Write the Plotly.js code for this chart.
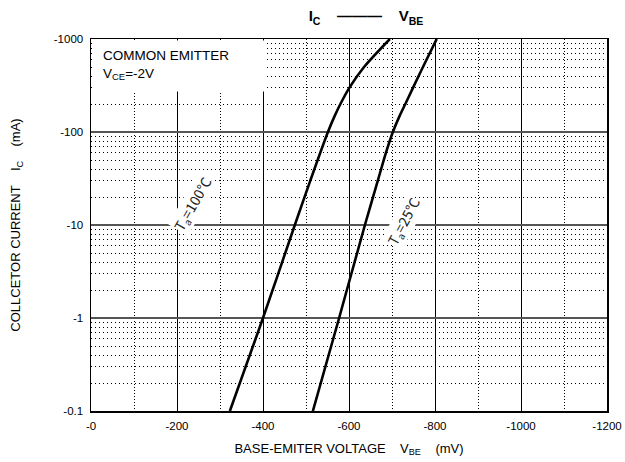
<!DOCTYPE html>
<html>
<head>
<meta charset="utf-8">
<script src="https://cdn.plot.ly/plotly-3.0.1.min.js"></script>
<style>html,body{margin:0;padding:0;background:#fff;}#chart{width:625px;height:462px;}</style>
</head>
<body>
<div id="chart"></div>
<script>
// Base-emitter voltage (mV) and collector current magnitude (mA, shown as negative)
const vbe100 = [-323, -400, -474, -510, -551, -567, -580, -601, -635, -695];
const ic100  = [0.1, 1, 10, 30, 100, 150, 200, 300, 500, 1000];
const vbe25  = [-516, -577, -637, -667, -686, -702, -718, -731, -749, -772, -804];
const ic25   = [0.1, 1, 10, 30, 60, 100, 150, 200, 300, 500, 1000];

const xTickVals = [0, -200, -400, -600, -800, -1000, -1200];
const xTickText = ['-0', '-200', '-400', '-600', '-800', '-1000', '-1200'];
const xMinorVals = [-100, -300, -500, -700, -900, -1100];
const yTickVals = [0.1, 1, 10, 100, 1000];
const yTickText = ['-0.1', '-1', '-10', '-100', '-1000'];
const yMinorVals = [];
[0.1, 1, 10, 100].forEach(d => { for (let k = 2; k <= 9; k++) yMinorVals.push(+(d * k).toPrecision(3)); });

// label anchor points (data coords)
const label100 = {x: -237, y: 17, text: 'T<sub>a</sub>=100℃'};
const label25  = {x: -728, y: 10.7, text: 'T<sub>a</sub>=25℃'};

const font = 'Liberation Sans, Arial, sans-serif';
const labelFont = 'Noto Sans CJK JP, Liberation Sans, sans-serif';
const curveLine = {color: '#000', width: 2.6, shape: 'spline', smoothing: 0.8};

const traces = [
  {x: vbe100, y: ic100, mode: 'lines', line: curveLine, hoverinfo: 'skip'},
  {x: vbe25, y: ic25, mode: 'lines', line: curveLine, hoverinfo: 'skip'}
];

const layout = {
  width: 625, height: 462,
  margin: {l: 91, r: 18, t: 38.5, b: 50.5},
  paper_bgcolor: '#fff', plot_bgcolor: '#fff',
  showlegend: false,
  font: {family: font, color: '#000', size: 11},
  title: {
    text: '<b>I<sub>C</sub>    ———    V<sub>BE</sub></b>',
    x: 366 / 625, xanchor: 'center', y: 0.965, yanchor: 'middle',
    font: {family: font, size: 15, color: '#000'}
  },
  xaxis: {
    range: [0, -1200], tickmode: 'array', tickvals: xTickVals, ticktext: xTickText,
    showgrid: true, gridcolor: '#000', gridwidth: 1,
    minor: {tickmode: 'array', tickvals: xMinorVals, showgrid: true, gridcolor: '#000', gridwidth: 1, griddash: '1px,2px', ticks: ''},
    showline: true, mirror: true, linecolor: '#000', linewidth: 1.5,
    ticks: '', zeroline: false, tickfont: {size: 11.5, family: font}, ticklabelstandoff: 4,
    title: {text: 'BASE-EMITER VOLTAGE    V<sub>BE</sub>    (mV)', font: {size: 13, family: font}, standoff: 12}
  },
  yaxis: {
    type: 'log', range: [-1, 3], tickmode: 'array', tickvals: yTickVals, ticktext: yTickText,
    showgrid: true, gridcolor: '#555', gridwidth: 1.6,
    minor: {tickmode: 'array', tickvals: yMinorVals, showgrid: true, gridcolor: '#000', gridwidth: 1, griddash: '1px,3px', ticks: ''},
    showline: true, mirror: true, linecolor: '#000', linewidth: 1.5,
    ticks: '', zeroline: false, tickfont: {size: 11.5, family: font}, ticklabelstandoff: 4,
    title: {text: 'COLLCETOR CURRENT    I<sub>C</sub>    (mA)', font: {size: 13, family: font}, standoff: 30}
  },
  annotations: [
    {xref: 'paper', yref: 'paper', x: 0.003, y: 0.997, xanchor: 'left', yanchor: 'top',
     text: ' ', width: 170, height: 50, bgcolor: '#fff', showarrow: false, borderpad: 0},
    {xref: 'paper', yref: 'paper', x: 0, y: 1, xanchor: 'left', yanchor: 'top', xshift: 10, yshift: -7,
     text: 'COMMON EMITTER<br>V<sub>CE</sub>=-2V', align: 'left', showarrow: false,
     font: {size: 13.5, family: font, color: '#000'}},
    {x: label100.x, y: Math.log10(label100.y), xref: 'x', yref: 'y', text: label100.text, textangle: -60, showarrow: false,
     bgcolor: '#fff', borderpad: 0, font: {size: 14, family: labelFont, color: '#222'}},
    {x: label25.x, y: Math.log10(label25.y), xref: 'x', yref: 'y', text: label25.text, textangle: -62, showarrow: false,
     bgcolor: '#fff', borderpad: 0, font: {size: 14, family: labelFont, color: '#222'}}
  ]
};

Plotly.newPlot('chart', traces, layout, {staticPlot: true, displayModeBar: false});
</script>
</body>
</html>
